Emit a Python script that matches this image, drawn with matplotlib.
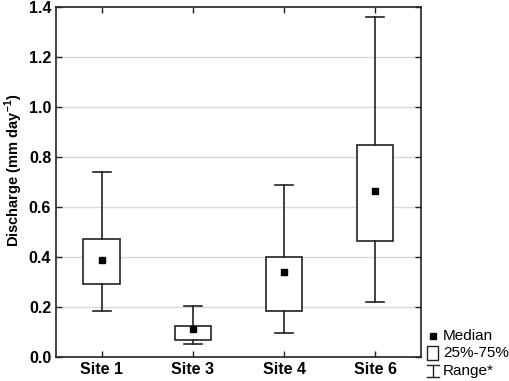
import matplotlib
matplotlib.use("Agg")
import matplotlib.pyplot as plt
from matplotlib.lines import Line2D
from matplotlib.patches import Rectangle

plt.rcParams['font.family'] = ['Liberation Sans', 'DejaVu Sans']
plt.rcParams['mathtext.fontset'] = 'custom'
plt.rcParams['mathtext.rm'] = 'Liberation Sans'
plt.rcParams['mathtext.bf'] = 'Liberation Sans:bold'

# values
sites = ['Site 1', 'Site 3', 'Site 4', 'Site 6']
q_min = [0.184, 0.053, 0.095, 0.220]
q1 = [0.291, 0.069, 0.184, 0.465]
median = [0.387, 0.112, 0.339, 0.664]
q3 = [0.472, 0.125, 0.400, 0.848]
q_max = [0.739, 0.203, 0.687, 1.361]

fig = plt.figure(figsize=(5.10, 3.81), dpi=100)
ax = fig.add_axes([0.110, 0.063, 0.715, 0.919])

stats = []
for i in range(len(sites)):
    stats.append({'label': sites[i], 'med': median[i], 'q1': q1[i], 'q3': q3[i],
                  'whislo': q_min[i], 'whishi': q_max[i], 'mean': median[i], 'fliers': []})

lc = '#222222'
ax.bxp(stats, positions=range(1, len(sites) + 1), widths=0.4, showmeans=True,
       showfliers=False, patch_artist=True,
       boxprops=dict(facecolor='white', edgecolor=lc, linewidth=1.2),
       whiskerprops=dict(color=lc, linewidth=1.2),
       capprops=dict(color=lc, linewidth=1.2),
       capwidths=0.2,
       medianprops=dict(linestyle='none'),
       meanprops=dict(marker='s', markerfacecolor='black', markeredgecolor='black', markersize=5))

ax.set_xlim(0.5, 4.5)
ax.set_ylim(0, 1.4)
ax.set_yticks([0.0, 0.2, 0.4, 0.6, 0.8, 1.0, 1.2, 1.4])
ax.set_yticklabels(['0.0', '0.2', '0.4', '0.6', '0.8', '1.0', '1.2', '1.4'])
ax.set_xticklabels(sites)
for yy in [0.2, 0.4, 0.6, 0.8, 1.0, 1.2]:
    ax.axhline(yy, color='#d9d9d9', linewidth=1.0, zorder=0)

ax.tick_params(direction='in', top=True, right=True, length=4, width=1, color=lc,
               labelsize=11.5)
for lab in ax.get_xticklabels() + ax.get_yticklabels():
    lab.set_fontweight('bold')
for s in ax.spines.values():
    s.set_color(lc)
    s.set_linewidth(1.2)

ax.set_ylabel('Discharge (mm day$^{\\mathbf{-1}}$)', fontsize=10.5, fontweight='bold')
ax.yaxis.set_label_coords(-0.086, 0.534)

# custom legend outside the axes at lower right
fx = lambda px: px / 510
fy = lambda py: 1 - py / 381
fig.add_artist(Line2D([fx(433)], [fy(336)], marker='s', color='black', markersize=4.5, linestyle='none'))
fig.add_artist(Rectangle((fx(427), fy(360)), fx(11), 14 / 381, fill=False, edgecolor=lc, linewidth=1.0))
fig.add_artist(Line2D([fx(433), fx(433)], [fy(365), fy(377)], color=lc, linewidth=1.0))
fig.add_artist(Line2D([fx(427), fx(439)], [fy(365), fy(365)], color=lc, linewidth=1.0))
fig.add_artist(Line2D([fx(427), fx(439)], [fy(377), fy(377)], color=lc, linewidth=1.0))
fig.text(fx(443), fy(336), 'Median', fontsize=11, va='center', ha='left')
fig.text(fx(443), fy(353), '25%-75%', fontsize=11, va='center', ha='left')
fig.text(fx(443), fy(371), 'Range*', fontsize=11, va='center', ha='left')

fig.savefig('out.png', dpi=100)
